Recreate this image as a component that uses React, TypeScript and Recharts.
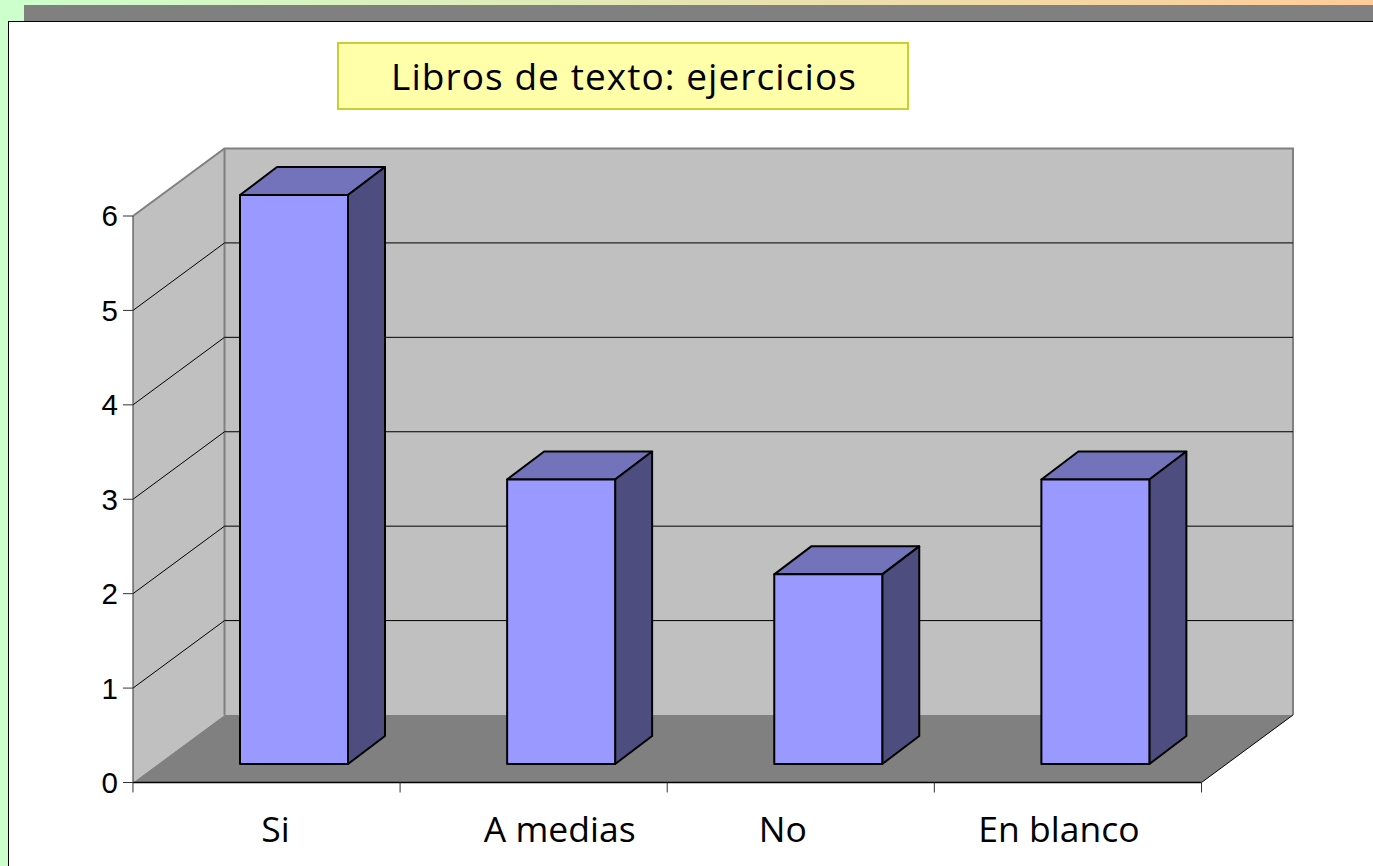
import { Bar, BarChart, ReferenceArea, XAxis, YAxis } from "recharts";

const categories = ["Si", "A medias", "No", "En blanco"];
const values = [6, 3, 2, 3];
const yTicks = [0, 1, 2, 3, 4, 5, 6];
const data = categories.map((name, i) => ({ name, value: values[i] }));

// horizontal nudge of each category label, they are not centred on their band in the original
const labelNudge = [9, 26, -18, -9];

const WIDTH = 1373;
const HEIGHT = 866;
const WALL_DX = 91.5;
const WALL_DY = 67.5;
const BAR_DX = 27;
const BAR_DY = 18.5;
const BOX_DX = 37;
const BOX_DY = 28;
// bars stand further forward than the axis, so they read slightly taller
const BAR_STRETCH = 1.0044;
const LABEL_FONT = "'Open Sans', sans-serif";

function pts(list: number[][]) {
  return list.map((p) => p.join(",")).join(" ");
}

// side wall, back wall and floor, sized from the plot rectangle
function Walls({ x, y, width, height }: any) {
  const r = x + width;
  const b = y + height;
  return (
    <g>
      <polygon
        points={pts([[x, y], [x + WALL_DX, y - WALL_DY], [x + WALL_DX, b - WALL_DY], [x, b]])}
        fill="#c0c0c0"
      />
      <polygon
        points={pts([[x + WALL_DX, y - WALL_DY], [r + WALL_DX, y - WALL_DY], [r + WALL_DX, b - WALL_DY], [x + WALL_DX, b - WALL_DY]])}
        fill="#c0c0c0"
      />
      <polygon
        points={pts([[x, b], [r, b], [r + WALL_DX, b - WALL_DY], [x + WALL_DX, b - WALL_DY]])}
        fill="#808080"
      />
      <polyline
        points={pts([[x, y], [x + WALL_DX, y - WALL_DY], [r + WALL_DX, y - WALL_DY], [r + WALL_DX, b - WALL_DY]])}
        fill="none"
        stroke="#808080"
        strokeWidth={2}
      />
      <line x1={x + WALL_DX} y1={y - WALL_DY} x2={x + WALL_DX} y2={b - WALL_DY} stroke="#808080" strokeWidth={2} />
      <line x1={r} y1={b} x2={r + WALL_DX} y2={b - WALL_DY} stroke="#000" strokeWidth={1} />
    </g>
  );
}

// an area from the tick up to the top of the axis; only its lower edge is drawn.
// ReferenceArea keeps it behind the bars, a ReferenceLine would land on top of them
function GridLine({ x, y, width, height }: any) {
  const b = y + height;
  return (
    <polyline
      points={pts([[x, b], [x + WALL_DX, b - WALL_DY], [x + width + WALL_DX, b - WALL_DY]])}
      fill="none"
      stroke="#000"
      strokeWidth={1}
    />
  );
}

function Box3D({ x, y, width, height }: any) {
  const l = x + BAR_DX;
  const r = l + width;
  const b = y + height - BAR_DY;
  const t = b - height * BAR_STRETCH;
  return (
    <g stroke="#000" strokeWidth={2} strokeLinejoin="round">
      <polygon points={pts([[l, t], [r, t], [r + BOX_DX, t - BOX_DY], [l + BOX_DX, t - BOX_DY]])} fill="#7373bb" />
      <polygon points={pts([[r, t], [r + BOX_DX, t - BOX_DY], [r + BOX_DX, b - BOX_DY], [r, b]])} fill="#4d4d7f" />
      <rect x={l} y={t} width={width} height={b - t} fill="#9999ff" />
    </g>
  );
}

function CategoryTick({ x, y, payload, index }: any) {
  const half = 133.6;
  return (
    <g>
      <line x1={x - half} y1={y} x2={x - half} y2={y + 10} stroke="#333" />
      {index === categories.length - 1 && (
        <line x1={x + half} y1={y} x2={x + half} y2={y + 10} stroke="#333" />
      )}
      <text
        x={x + labelNudge[index]}
        y={y + 59}
        textAnchor="middle"
        fontFamily={LABEL_FONT}
        fontSize={35.5}
        fill="#000"
      >
        {payload.value}
      </text>
    </g>
  );
}

export default function App() {
  return (
    <div style={{ position: "absolute", left: 0, top: 0, width: WIDTH, height: HEIGHT, overflow: "hidden", background: "#ccffcc" }}>
      <div style={{ position: "absolute", left: 0, top: 0, width: WIDTH, height: 5, background: "linear-gradient(90deg, #ccffcc 0%, #ffcc99 100%)" }} />
      <div style={{ position: "absolute", left: 9, top: 5, right: 0, height: 16, background: "linear-gradient(90deg, #ccffcc 15px, #808080 15px)" }} />
      <div style={{ position: "absolute", left: 8, top: 21, right: 0, bottom: 0, background: "#fff", borderLeft: "1px solid #000", borderTop: "1.5px solid #000" }} />
      <div style={{ position: "absolute", left: 0, top: 0 }}>
        <BarChart
          width={WIDTH}
          height={HEIGHT}
          data={data}
          margin={{ top: 216, right: 171.5, bottom: 33.5, left: 93 }}
        >
          <ReferenceArea y1={0} y2={6} shape={Walls} ifOverflow="visible" />
          {yTicks.slice(1, -1).map((t) => (
            <ReferenceArea key={t} y1={t} y2={6} shape={GridLine} ifOverflow="visible" />
          ))}
          <XAxis
            dataKey="name"
            height={50}
            axisLine={{ stroke: "#000", strokeWidth: 1.5 }}
            tickLine={false}
            tickSize={0}
            tickMargin={0}
            interval={0}
            tick={CategoryTick}
          />
          <YAxis
            width={40}
            domain={[0, 6]}
            ticks={yTicks}
            interval={0}
            axisLine={{ stroke: "#333", strokeWidth: 1 }}
            tickLine={{ stroke: "#333" }}
            tickSize={10}
            tickMargin={5}
            tick={{ fontFamily: "'Liberation Sans', Arial, sans-serif", fontSize: 29.5, fill: "#000" }}
          />
          <Bar dataKey="value" barSize={108} shape={Box3D} isAnimationActive={false} />
        </BarChart>
      </div>
      <div
        style={{
          position: "absolute",
          left: 337,
          top: 42,
          width: 572,
          height: 68,
          boxSizing: "border-box",
          background: "#ffffaa",
          border: "2px solid #cccc33",
          fontFamily: LABEL_FONT,
          fontSize: 37,
          letterSpacing: 1.07,
          lineHeight: "64px",
          color: "#000",
          paddingLeft: 52,
          whiteSpace: "nowrap",
        }}
      >
        Libros de texto: ejercicios
      </div>
    </div>
  );
}
